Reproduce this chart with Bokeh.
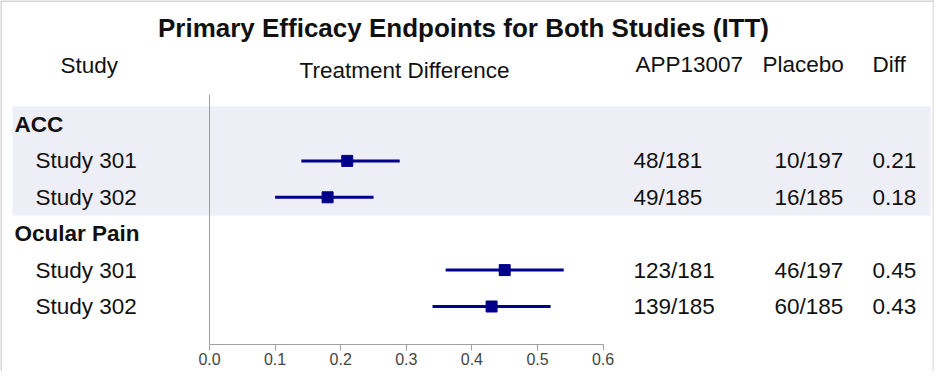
from bokeh.plotting import figure
from bokeh.models import (ColumnDataSource, Span, BoxAnnotation, FixedTicker,
                          PrintfTickFormatter, LinearAxis, Range1d)
from bokeh.core.properties import value
from bokeh.embed import file_html
from bokeh.resources import INLINE

# ---------------- data ----------------
title_text = "Primary Efficacy Endpoints for Both Studies (ITT)"
header_labels = ["Study", "Treatment Difference", "APP13007", "Placebo", "Diff"]
groups = ["ACC", "Ocular Pain"]
group_rows = [0, 3]
studies = ["Study 301", "Study 302", "Study 301", "Study 302"]
study_rows = [1, 2, 4, 5]
estimate = [0.21, 0.18, 0.45, 0.43]
ci_low = [0.14, 0.10, 0.36, 0.34]
ci_high = [0.29, 0.25, 0.54, 0.52]
app_counts = ["48/181", "49/185", "123/181", "139/185"]
placebo_counts = ["10/197", "16/185", "46/197", "60/185"]
diff_labels = ["0.21", "0.18", "0.45", "0.43"]
ticks = [0.0, 0.1, 0.2, 0.3, 0.4, 0.5, 0.6]

# ---------------- layout helpers ----------------
W, H = 934, 371
X0_PX, PX_PER_UNIT = 209, 656.0
ROW0_PX, ROW_STEP = 124.0, 36.4


def px2x(px):
    return (px - X0_PX) / PX_PER_UNIT


def py(px):
    return -(px - ROW0_PX) / ROW_STEP


FONT = "Liberation Sans"
TXT = "#111111"
NAVY = "#00008b"
BODY = "22.5px"

p = figure(width=W, height=H, frame_width=W, frame_height=H,
           x_range=Range1d(px2x(0), px2x(W)), y_range=Range1d(py(H), py(0)),
           output_backend="svg", toolbar_location=None, min_border=0,
           x_axis_location=None, y_axis_location=None,
           outline_line_color=None, background_fill_color="white",
           border_fill_color="white")
p.grid.visible = False

# shaded band behind the ACC group
p.add_layout(BoxAnnotation(left=px2x(12), right=px2x(930), top=0.5, bottom=-2.5,
                           fill_color="#eeeef6", fill_alpha=1.0, line_color=None,
                           level="underlay"))

# outer light border
p.add_layout(Span(location=px2x(0.5), dimension="height", line_color="#d6d6d6", line_width=2))
p.add_layout(Span(location=px2x(933), dimension="height", line_color="#e2e2e2", line_width=2))
p.add_layout(Span(location=py(0.5), dimension="width", line_color="#d6d6d6", line_width=2))

# axis
axis = LinearAxis(fixed_location=py(344), bounds=(0, 0.6),
                  ticker=FixedTicker(ticks=ticks, minor_ticks=[]),
                  formatter=PrintfTickFormatter(format="%.1f"))
axis.axis_line_color = "#a0a0a0"
axis.major_tick_line_color = "#a0a0a0"
axis.major_tick_out = 6
axis.major_tick_in = 0
axis.minor_tick_line_color = None
axis.major_label_text_font = FONT
axis.major_label_text_font_size = "16px"
axis.major_label_text_color = "#444444"
axis.major_label_standoff = 2
p.add_layout(axis, "below")

# reference line at zero
p.segment(x0=[0], y0=[py(94)], x1=[0], y1=[py(344)], line_color="#a0a0a0", line_width=1)

# forest marks
ys = [-r for r in study_rows]
src = ColumnDataSource(dict(est=estimate, lo=ci_low, hi=ci_high, y=ys,
                            study=studies, app=app_counts, pla=placebo_counts,
                            diff=diff_labels))
p.segment(x0="lo", x1="hi", y0="y", y1="y", source=src, line_color=NAVY, line_width=3)
p.scatter(x="est", y="y", source=src, marker="square", size=11,
          fill_color=NAVY, line_color=NAVY)

# title
p.text(x=[px2x(463)], y=[py(27)], text=[title_text], text_font=value(FONT),
       text_font_size="26px", text_font_style="bold", text_color=TXT,
       text_align="center", text_baseline="middle")

# headers
hx = [px2x(60), px2x(299), px2x(635), px2x(762), px2x(872)]
hy = [py(65), py(70), py(64), py(64), py(64)]
p.text(x=hx, y=hy, text=header_labels, text_font=value(FONT), text_font_size=BODY,
       text_color=TXT, text_align="left", text_baseline="middle")

# group labels
p.text(x=[px2x(14)] * len(groups), y=[-r for r in group_rows], text=groups,
       text_font=value(FONT), text_font_size=BODY, text_font_style="bold",
       text_color=TXT, text_align="left", text_baseline="middle")

# study labels and columns
common = dict(source=src, y="y", text_font=value(FONT), text_font_size=BODY,
              text_color=TXT, text_align="left", text_baseline="middle")
p.text(x=px2x(35), text="study", **common)
p.text(x=px2x(633), text="app", **common)
p.text(x=px2x(774), text="pla", **common)
p.text(x=px2x(872), text="diff", **common)

open("out.html", "w").write(file_html(p, INLINE))
